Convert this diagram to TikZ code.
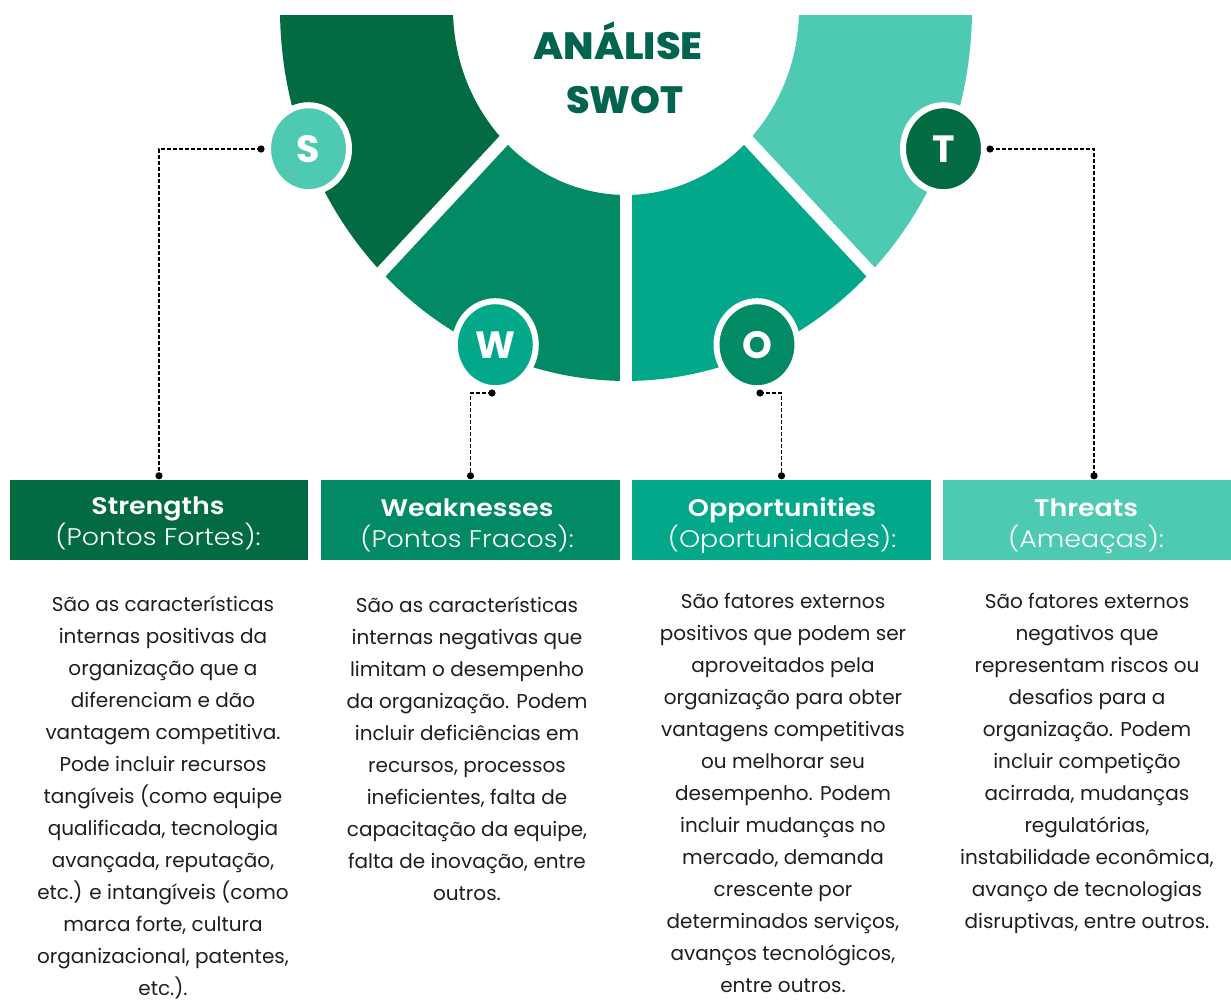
\documentclass[tikz,border=0pt]{standalone}
\usepackage{fontspec}
\setmainfont{Poppins}
\newfontfamily\lightfont{Poppins Light}
\newfontfamily\semifont{Poppins SemiBold}
\newfontfamily\heavyfont{Poppins ExtraBold}
\usetikzlibrary{calc,shapes.geometric}

\definecolor{gA}{HTML}{026B42}
\definecolor{gB}{HTML}{028A65}
\definecolor{gC}{HTML}{03A88A}
\definecolor{gD}{HTML}{4FCAB2}
\definecolor{titlegreen}{HTML}{00644F}
\definecolor{bodytext}{HTML}{1E1E1E}

% two-line heading: semibold name over a light subtitle, slightly widened
\newcommand{\headpair}[2]{\scalebox{1.12}[1]{\semifont #1}\\\scalebox{1.12}[1]{\lightfont #2}}

\tikzset{
  badge/.style={ellipse, inner sep=0pt, minimum width=81pt, minimum height=87pt,
    draw=white, line width=6pt, text=white, font=\fontsize{38}{38}\selectfont\bfseries},
  headbox/.style={rectangle, inner sep=0pt, minimum height=80pt},
  % base anchor of a multi-line node sits on its last line
  headtext/.style={anchor=base, align=center, text=white, inner sep=0pt,
    font=\fontsize{24}{31}\selectfont},
  bodytxt/.style={anchor=base, align=center, text=bodytext, inner sep=0pt,
    font=\fontsize{20}{32}\selectfont},
  titletxt/.style={anchor=base, text=titlegreen, inner sep=0pt,
    font=\fontsize{38}{38}\selectfont\heavyfont},
  conn/.style={black, line width=1.2pt, dash pattern=on 4pt off 2pt},
  tipdot/.style={black, radius=3.6pt}
}

\begin{document}
\begin{tikzpicture}[x=1pt,y=-1pt]
\useasboundingbox (0,0) rectangle (1231,1001);

% half ring split into four quarter-sectors
\begin{scope}
  \clip (0,15) rectangle (1231,1001);
  \begin{scope}[shift={(626,9)}, yscale=1.075]
    \fill[gA] (180:346) arc[start angle=180, end angle=135, radius=346]
      -- (135:173) arc[start angle=135, end angle=180, radius=173] -- cycle;
    \fill[gB] (135:346) arc[start angle=135, end angle=90, radius=346]
      -- (90:173) arc[start angle=90, end angle=135, radius=173] -- cycle;
    \fill[gC] (90:346) arc[start angle=90, end angle=45, radius=346]
      -- (45:173) arc[start angle=45, end angle=90, radius=173] -- cycle;
    \fill[gD] (45:346) arc[start angle=45, end angle=0, radius=346]
      -- (0:173) arc[start angle=0, end angle=45, radius=173] -- cycle;
    \foreach \a in {135,90,45}
      \draw[white, line width=12pt] (\a:160) -- (\a:362);
  \end{scope}
\end{scope}

% title
\node[titletxt] (title1) at (618,59) {\scalebox{1.05}[1]{ANÁLISE}};
\node[titletxt] (title2) at (625,113) {SWOT};

% letter badges
\node[badge, fill=gD] (S) at (308.5,148.7) {S};
\node[badge, fill=gC] (W) at (495.3,344.7) {W};
\node[badge, fill=gB] (O) at (757,344.7) {O};
\node[badge, fill=gA] (T) at (943.5,148.7) {T};

% heading boxes
\node[headbox, fill=gA, minimum width=298pt] (boxS) at (159,520) {};
\node[headbox, fill=gB, minimum width=299pt] (boxW) at (470.5,520) {};
\node[headbox, fill=gC, minimum width=299pt] (boxO) at (781.5,520) {};
\node[headbox, fill=gD, minimum width=288pt] (boxT) at (1087,520) {};

\node[headtext] (hS) at (158,545) {\headpair{Strengths}{(Pontos Fortes):}};
\node[headtext] (hW) at (467,547) {\headpair{Weaknesses}{(Pontos Fracos):}};
\node[headtext] (hO) at (782,547) {\headpair{Opportunities}{(Oportunidades):}};
\node[headtext] (hT) at (1086,547) {\headpair{Threats}{(Ameaças):}};

% connector ends next to the badges
\coordinate (sTip) at (261,149);
\coordinate (wTip) at (492,393);
\coordinate (oTip) at (760,393);
\coordinate (tTip) at (990,149);
\coordinate (sEnd) at ($(boxS.north)+(0,-4)$);
\coordinate (wEnd) at ($(boxW.north)+(0,-4)$);
\coordinate (oEnd) at ($(boxO.north)+(0,-4)$);
\coordinate (tEnd) at ($(boxT.north)+(7,-4)$);

\foreach \a/\b in {sTip/sEnd, wTip/wEnd, oTip/oEnd, tTip/tEnd}{
  \draw[conn] (\a) -| (\b);
  \fill[tipdot] (\a) circle;
  \fill[tipdot] (\b) circle;
}

% descriptions
\node[bodytxt] (dS) at (163,995) {São as características\\internas positivas da\\organização que a\\diferenciam e dão\\vantagem competitiva.\\Pode incluir recursos\\tangíveis (como equipe\\qualificada, tecnologia\\avançada, reputação,\\etc.) e intangíveis (como\\marca forte, cultura\\organizacional, patentes,\\etc.).};
\node[bodytxt] (dW) at (467,900) {São as características\\internas negativas que\\limitam o desempenho\\da organização. Podem\\incluir deficiências em\\recursos, processos\\ineficientes, falta de\\capacitação da equipe,\\falta de inovação, entre\\outros.};
\node[bodytxt] (dO) at (783,992) {São fatores externos\\positivos que podem ser\\aproveitados pela\\organização para obter\\vantagens competitivas\\ou melhorar seu\\desempenho. Podem\\incluir mudanças no\\mercado, demanda\\crescente por\\determinados serviços,\\avanços tecnológicos,\\entre outros.};
\node[bodytxt] (dT) at (1087,928) {São fatores externos\\negativos que\\representam riscos ou\\desafios para a\\organização. Podem\\incluir competição\\acirrada, mudanças\\regulatórias,\\instabilidade econômica,\\avanço de tecnologias\\disruptivas, entre outros.};
\end{tikzpicture}
\end{document}
